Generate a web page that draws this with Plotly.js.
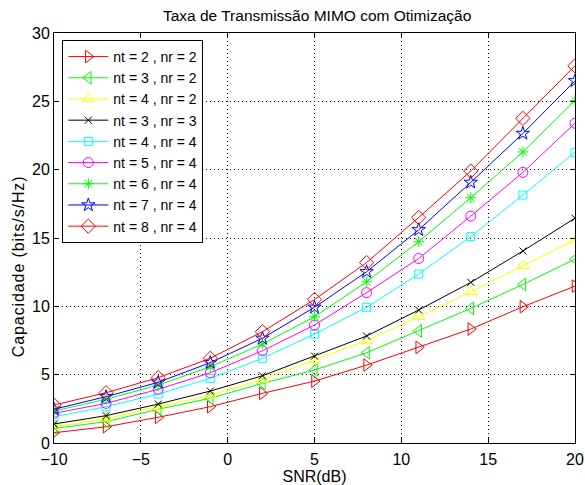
<!DOCTYPE html>
<html>
<head>
<meta charset="utf-8">
<script src="https://cdn.plot.ly/plotly-3.0.1.min.js"></script>
<style>
body{margin:0;padding:0;background:#fff}
#chart{width:585px;height:485px}
#chart .annotation-text{letter-spacing:0.9px}
</style>
</head>
<body>
<div id="chart"></div>
<script>
var snr = [-10, -7, -4, -1, 2, 5, 8, 11, 14, 17, 20];
var names = ["nt = 2 , nr = 2", "nt = 3 , nr = 2", "nt = 4 , nr = 2", "nt = 3 , nr = 3", "nt = 4 , nr = 4", "nt = 5 , nr = 4", "nt = 6 , nr = 4", "nt = 7 , nr = 4", "nt = 8 , nr = 4"];
var c22 = [0.75, 1.19, 1.88, 2.66, 3.63, 4.53, 5.7, 7.0, 8.34, 9.97, 11.48];
var c32 = [1.07, 1.56, 2.47, 3.27, 4.36, 5.34, 6.6, 8.2, 9.85, 11.6, 13.45];
var c42 = [1.19, 1.8, 2.66, 3.5, 4.65, 6.07, 7.48, 9.24, 11.07, 12.97, 14.85];
var c33 = [1.39, 2.0, 2.85, 3.8, 4.92, 6.36, 7.83, 9.73, 11.75, 14.05, 16.45];
var c44 = [1.92, 2.66, 3.58, 4.73, 6.2, 7.97, 9.93, 12.36, 15.1, 18.14, 21.27];
var c54 = [2.17, 2.9, 3.93, 5.14, 6.75, 8.63, 11.0, 13.5, 16.6, 19.8, 23.4];
var c64 = [2.34, 3.2, 4.24, 5.58, 7.24, 9.24, 11.8, 14.73, 17.95, 21.3, 25.07];
var c74 = [2.47, 3.39, 4.44, 5.88, 7.66, 9.93, 12.53, 15.6, 19.07, 22.65, 26.5];
var c84 = [2.78, 3.68, 4.78, 6.2, 8.14, 10.5, 13.2, 16.5, 19.9, 23.75, 27.6];
var xTickVals = [-10, -5, 0, 5, 10, 15, 20];
var xTickText = ['\u221210', '\u22125', '0', '5', '10', '15', '20'];
var yTickVals = [0, 5, 10, 15, 20, 25, 30];
var series = [c22, c32, c42, c33, c44, c54, c64, c74, c84];

var colors = ["#ff0000", "#00ff00", "#ffff00", "#000000", "#00ffff", "#ff00ff", "#00ff00", "#0000ff", "#ff0000"];
var symbols = ["triangle-right-open", "triangle-left-open", "triangle-up-open", "x-thin-open", "square-open", "circle-open", "asterisk-open", "star-open", "diamond-open"];
var sizes = [11, 11, 11, 7, 8, 10, 9, 10, 11];
var FONT = 'Liberation Sans, Arial, Helvetica, sans-serif';

var traces = series.map(function(s, i) {
  return {
    x: snr, y: s, name: names[i], type: 'scatter', mode: 'lines+markers',
    line: {color: colors[i], width: 1},
    marker: {symbol: symbols[i], size: sizes[i], color: colors[i], line: {color: colors[i], width: 1}}
  };
});

var axisCommon = {
  showline: true, linecolor: '#000', linewidth: 1, mirror: 'ticks',
  ticks: 'inside', ticklen: 5, tickcolor: '#000',
  showgrid: true, gridcolor: '#000', griddash: '1px,3px', gridwidth: 1,
  zeroline: false,
  tickfont: {family: FONT, size: 16, color: '#000'}
};

var layout = {
  width: 585, height: 485,
  margin: {l: 54, r: 9.5, t: 33, b: 42},
  paper_bgcolor: '#fff', plot_bgcolor: '#fff',
  title: {text: 'Taxa de Transmissão MIMO com Otimização', font: {family: FONT, size: 15.5, color: '#000'},
    x: 0.505, xanchor: 'center', xref: 'paper', y: 0.967, yanchor: 'middle'},
  xaxis: Object.assign({}, axisCommon, {range: [-10, 20], tickvals: xTickVals, ticktext: xTickText, ticklabelstandoff: 2,
    title: {text: 'SNR(dB)', font: {family: FONT, size: 16, color: '#000'}, standoff: 1}}),
  yaxis: Object.assign({}, axisCommon, {range: [0, 30], tickvals: yTickVals}),
  annotations: [{text: 'Capacidade (bits/s/Hz)', textangle: -90, xref: 'paper', yref: 'paper',
    x: -0.068, y: 0.43, xanchor: 'center', yanchor: 'middle', showarrow: false,
    font: {family: FONT, size: 16, color: '#000'}}],
  legend: {x: 0.016, y: 0.983, xanchor: 'left', yanchor: 'top', bgcolor: '#fff', bordercolor: '#000', borderwidth: 1,
    font: {family: FONT, size: 14, color: '#000'}, itemwidth: 40, tracegroupgap: 0},
  showlegend: true
};

Plotly.newPlot('chart', traces, layout, {displayModeBar: false});
</script>
</body>
</html>
